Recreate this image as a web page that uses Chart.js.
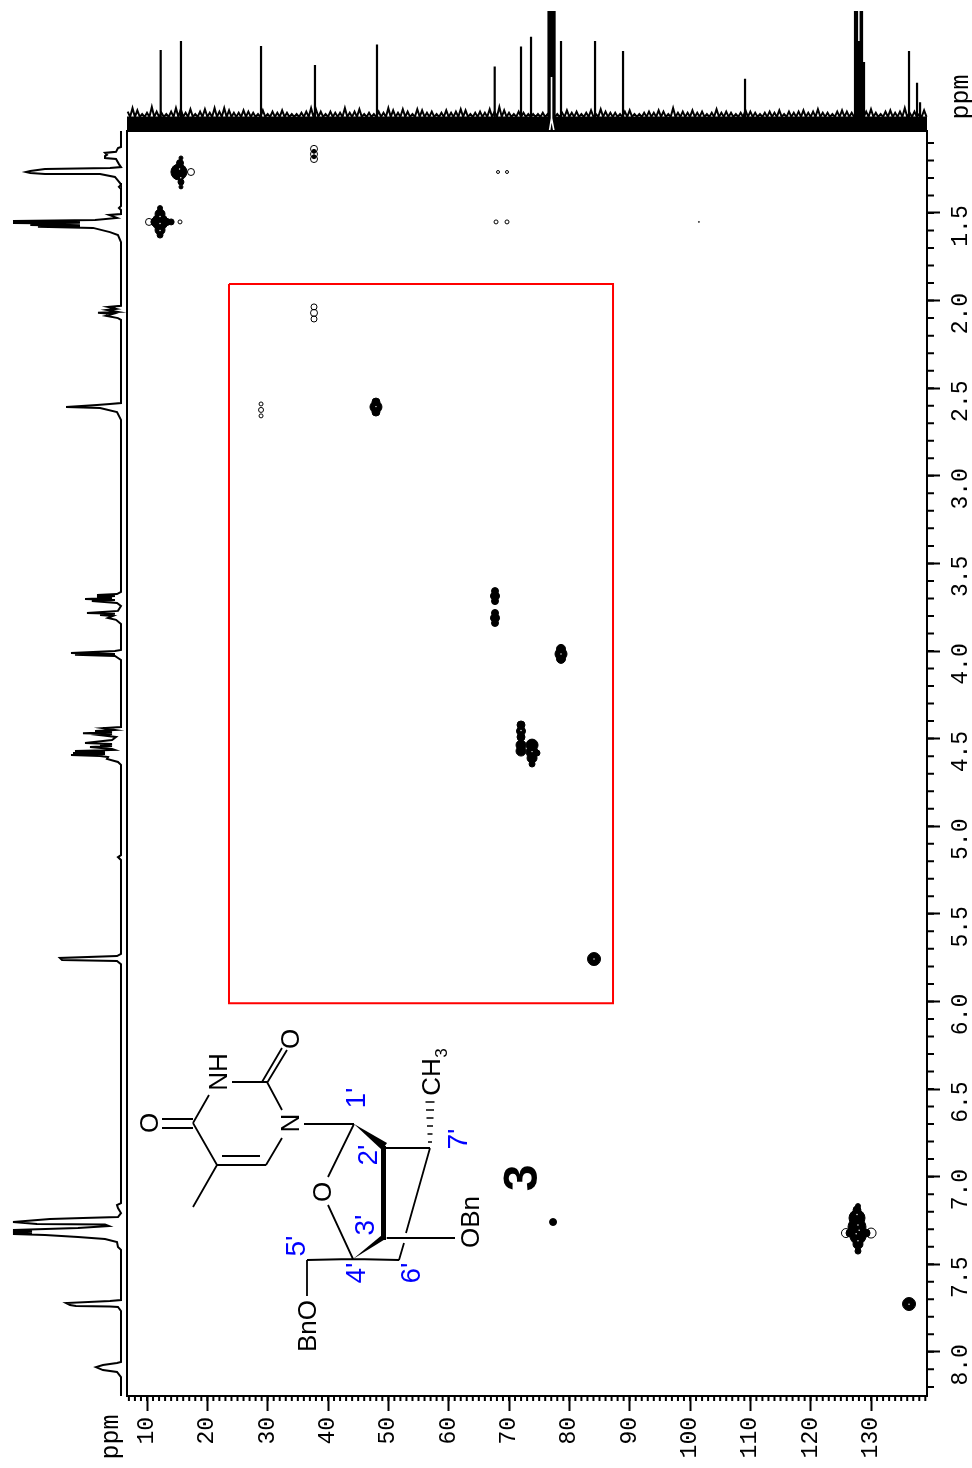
<!DOCTYPE html>
<html><head><meta charset="utf-8">
<script src="https://cdn.jsdelivr.net/npm/chart.js@4/dist/chart.umd.min.js"></script>
<style>html,body{margin:0;padding:0;background:#fff}canvas{display:block}</style>
</head><body><canvas id="c" width="972" height="1468"></canvas>
<script>
// Axis ticks
const carbonTicks=[10,20,30,40,50,60,70,80,90,100,110,120,130];
const protonTicks=[1.5,2.0,2.5,3.0,3.5,4.0,4.5,5.0,5.5,6.0,6.5,7.0,7.5,8.0];
// 1H projection (ppm, intensity)
const protonH=[1.032,1.123,1.129,1.151,1.157,1.168,1.175,1.186,1.192,1.221,1.238,1.243,1.249,1.260,1.266,1.272,1.277,1.277,1.294,1.329,1.340,1.351,1.363,1.460,1.472,1.483,1.506,1.511,1.528,1.540,1.545,1.551,1.557,1.562,1.568,1.574,1.579,1.585,1.609,1.626,1.666,2.030,2.036,2.047,2.053,2.065,2.070,2.076,2.087,2.100,2.110,2.585,2.590,2.596,2.607,2.613,2.636,2.681,3.663,3.675,3.680,3.686,3.692,3.698,3.703,3.709,3.715,3.726,3.743,3.771,3.783,3.788,3.794,3.800,3.811,3.822,3.845,3.994,4.000,4.011,4.017,4.022,4.028,4.051,4.434,4.440,4.451,4.457,4.463,4.469,4.474,4.480,4.491,4.508,4.525,4.531,4.537,4.542,4.548,4.559,4.565,4.571,4.576,4.582,4.588,4.594,4.599,4.605,4.616,4.633,4.650,5.165,5.176,5.193,5.729,5.741,5.752,5.763,5.769,5.787,7.151,7.162,7.179,7.208,7.231,7.236,7.242,7.259,7.270,7.273,7.282,7.293,7.304,7.310,7.316,7.321,7.327,7.333,7.344,7.356,7.373,7.401,7.418,7.704,7.710,7.721,7.733,7.738,7.741,7.744,7.767,8.058,8.064,8.075,8.087,8.104,8.115,8.144,8.252];
const protonI=[0,0,2.8,4.6,14.8,13,14.8,14.8,4.6,1.9,0,10.2,70.4,84,88,84,70.4,19.4,5.6,0.9,0,1.9,0,0,1.9,0,0,11.1,3.7,24,100,38,100,38,84,38,76.9,25.9,10.2,2.8,0,0,12,4.6,13,2.8,21.3,7.4,13.9,2.8,0,0,10.2,22.2,50.9,19.4,3.7,0,0,3.7,22.2,5.6,22.2,8.3,33.3,5.6,27,3.7,0,2.8,31.5,5.6,19.4,7.4,12,4.6,0,0,5.6,46.3,5.6,42.6,5.6,0,0,16.7,5.6,24,8.3,35.2,8.3,19.4,4.6,8.3,33.3,8.3,19.4,8.3,28.7,8.3,5.6,42.6,14.8,44.4,14.8,46.3,19.4,12,13,2.8,0,0,2.8,0,0,3.7,56.5,54.6,3.7,0,0,3.7,2.8,0,2.8,35.2,65.7,100,77.8,14.8,11.1,39.8,100,82.4,100,82.4,100,70.4,39.8,14.8,3.7,2.8,0,0,10.2,50.9,47.2,41.7,10.2,2.8,0,0,3.7,16.7,23.1,16.7,3.7,0,0];
// 13C projection peaks (ppm, intensity; 100 = clipped at the top)
const carbonPeakC=[12.27,15.63,28.9,37.84,48.12,67.63,71.99,73.65,76.55,76.72,76.88,77.05,77.21,77.38,77.55,78.62,84.26,88.9,109.12,127.35,127.52,127.68,127.89,128.06,128.29,128.51,128.68,128.84,136.3,137.63,138.13];
const carbonPeakI=[66.7,74.4,70.1,53.8,71.4,52.6,69.7,78,100,100,100,100,100,100,100,74.4,74.4,65.8,42.1,100,100,100,74.4,74.4,100,100,56.4,56.4,65.8,38.7,22];
// 13C baseline noise envelope, one reading per 0.8 ppm from 6.8 ppm
const noiseStart=6.8,noiseStep=0.8,noiseFloor=9.5;
const noiseI=[14,17,15,12,13,18,14,13,12,14,17,16,13,16,12,14,16,13,17,14,17,15,13,13,15,14,13,12,15,12,14,13,15,13,12,12,13,14,17,16,14,12,14,13,13,17,13,14,16,12,13,12,14,13,17,15,13,16,14,12,16,15,13,14,12,13,15,13,14,16,15,12,13,14,13,16,14,18,15,13,12,14,13,12,12,12,13,12,14,12,13,15,13,14,12,13,15,12,16,14,13,13,12,14,15,12,12,13,14,13,15,14,12,17,13,14,13,15,13,14,12,13,16,13,14,13,12,13,15,14,13,12,13,14,13,15,12,14,13,14,15,13,14,16,13,13,12,14,15,14,13,12,13,14,16,13,12,14,15,13,14,17,13,14,12,15];
// Cross peaks: solid contour cores (13C, 1H, radius)
const coreC=[15.29,15.47,15.63,15.63,15.63,12.16,12.16,12.16,12.16,12.16,13.31,11.3,14.0,47.95,47.95,47.95,67.68,67.68,67.68,67.68,67.68,67.68,78.62,78.62,78.62,71.99,71.99,71.99,71.99,71.99,73.82,73.82,73.82,73.82,74.64,84.09,77.3,127.68,127.68,127.68,127.84,127.84,127.84,127.84,126.52,129.18,136.3,37.68,37.68];
const coreH=[1.266,1.215,1.186,1.323,1.351,1.551,1.506,1.597,1.472,1.626,1.551,1.551,1.551,2.607,2.579,2.636,3.658,3.686,3.715,3.783,3.811,3.840,4.017,3.988,4.045,4.422,4.457,4.491,4.537,4.571,4.537,4.577,4.611,4.645,4.582,5.758,7.259,7.191,7.236,7.287,7.340,7.385,7.425,7.168,7.322,7.322,7.727,1.148,1.179];
const coreR=[8,3.5,2,3,2,8,5,5,2.5,3,3.5,4,3,6,4,4,3.5,4.5,3.5,3.5,4.5,3.5,6,4.5,4.5,4,4.5,4,5,5,6,6,5,3,3,6.5,3.5,4,8,9,8,5,3,2.5,4,4,6.5,2,2];
// Cross peaks: open outer contours (13C, 1H, radius)
const ringC=[17.29,15.47,10.33,37.68,37.68,37.68,37.68,37.68,37.68,28.9,28.9,28.9,68.18,69.67,67.85,69.67,101.48,125.85,130.01];
const ringH=[1.266,1.551,1.551,1.134,1.164,1.192,2.036,2.070,2.105,2.590,2.624,2.658,1.266,1.266,1.551,1.551,1.551,7.322,7.322];
const ringR=[3.5,2,3.5,3.5,3.5,3.5,3,3.5,3,2,2.5,2,1.5,1.5,2,2,0.5,4.5,5];
// Light gaps between contour lines inside the dense peaks
const speckC=[15.4,15.6,12.16,12.16,12.16,127.68,127.84,128.04,127.54,127.84,136.3,47.95,78.62,84.09,73.82,71.99];
const speckH=[1.249,1.299,1.52,1.56,1.60,7.216,7.276,7.306,7.326,7.366,7.728,2.605,4.017,5.758,4.574,4.454];
// Box around the region of interest
const boxC=[23.59,87.24,87.24,23.59,23.59];
const boxH=[1.905,1.905,6.01,6.01,1.905];
// Molecule (annotation drawn over the plot)
const bonds=[[262,1082,282,1048],[267,1083,287,1050],[232,1082,267,1082],[267,1082,282,1110],[209,1095,193,1123],[193,1119,162,1119],[193,1128,162,1128],[193,1123,217,1165],[217,1165,266,1165],[222,1156,260,1156],[266,1165,282,1138],[217,1165,193,1207],[304,1124,354,1124],[354,1124,328,1177],[328,1205,353,1259],[386,1148,430,1148],[430,1148,406,1233],[404,1243,399,1260],[353,1259,399,1260],[387,1238,455,1238],[353,1259,307,1260],[307,1260,307,1296]];
const molText=[["O",292,1039],["NH",220,1072],["O",151,1123],["N",292,1123],["O",324,1192],["BnO",309,1326],["OBn",472,1222],["CH",433,1077]];
const blueText=[["1'",357,1098],["2'",369,1155],["3'",366,1225],["4'",357,1273],["5'",297,1246],["6'",412,1273],["7'",459,1139]];

const L=127,R=927,T=131,B=1396;
const zip=(a,b)=>a.map((v,i)=>({x:v,y:b[i]}));
const bub=(a,b,r)=>a.map((v,i)=>({x:v,y:b[i],r:r[i]}));
const peakLine=[];carbonPeakC.forEach((c,i)=>{peakLine.push({x:c,y:0},{x:c,y:carbonPeakI[i]},{x:c,y:0});});
const noiseLine=[];noiseI.forEach((v,i)=>{const c=noiseStart+i*noiseStep;noiseLine.push({x:c,y:v},{x:c+noiseStep/2,y:noiseFloor});});
const line=(data,color,w,extra)=>Object.assign({type:'scatter',data,showLine:true,borderColor:color,borderWidth:w,pointRadius:0,tension:0,clip:false,xAxisID:'x',yAxisID:'y',borderJoinStyle:'miter'},extra||{});
const up=(ctx,txt,x,y,font,color)=>{ctx.save();ctx.translate(x,y);ctx.rotate(-Math.PI/2);ctx.font=font;ctx.fillStyle=color||'#000';ctx.textAlign='center';ctx.textBaseline='middle';ctx.fillText(txt,0,0);ctx.restore();};
const overlay={id:'overlay',
 afterDraw(chart){
  const ctx=chart.ctx,sx=chart.scales.x,sy=chart.scales.y;
  ctx.save();ctx.strokeStyle='#000';ctx.lineWidth=2;ctx.strokeRect(L,T,R-L,B-T);
  ctx.beginPath();
  for(let v=7;v<=139;v++){const p=sx.getPixelForValue(v);ctx.moveTo(p,B);ctx.lineTo(p,B+5);}
  for(let v=11;v<=82;v++){const p=sy.getPixelForValue(v/10);ctx.moveTo(R,p);ctx.lineTo(R+7,p);}
  ctx.stroke();
  up(ctx,'ppm',111,1437,'25px "Liberation Mono"');
  up(ctx,'ppm',961,97,'25px "Liberation Mono"');
  // molecule
  ctx.lineWidth=1.8;ctx.beginPath();
  bonds.forEach(b=>{ctx.moveTo(b[0],b[1]);ctx.lineTo(b[2],b[3]);});ctx.stroke();
  ctx.fillStyle='#000';
  [[354,1124,387,1143,382,1150],[353,1259,382,1235,387,1238]].forEach(t=>{ctx.beginPath();ctx.moveTo(t[0],t[1]);ctx.lineTo(t[2],t[3]);ctx.lineTo(t[4],t[5]);ctx.closePath();ctx.fill();});
  ctx.fillRect(381,1146,5,94);
  ctx.lineWidth=1.5;ctx.beginPath();
  [[1142,2],[1134,2.5],[1126,3],[1118,3.5],[1110,4],[1102,4.5]].forEach(h=>{ctx.moveTo(430-h[1],h[0]);ctx.lineTo(430+h[1],h[0]);});ctx.stroke();
  molText.forEach(t=>up(ctx,t[0],t[1],t[2],'26px "Liberation Sans"'));
  up(ctx,'3',442,1053,'17px "Liberation Sans"');
  blueText.forEach(t=>up(ctx,t[0],t[1],t[2],'28px "Liberation Sans"','#0000ff'));
  up(ctx,'3',524,1178,'bold 48px "Liberation Sans"');
  ctx.restore();
 }};
new Chart(document.getElementById('c'),{
 type:'scatter',
 data:{datasets:[
  line(zip([76.71,77.05,77.45,77.05,77.05],[-2.5,8.5,-2.5,8.5,43.6]),'#fff',1.6,{label:'solvent gap',yAxisID:'yC'}),
  line(peakLine,'#000',2.2,{label:'13C peaks',yAxisID:'yC'}),
  line(noiseLine,'#000',2,{label:'13C noise',yAxisID:'yC'}),
  line([{x:6.685,y:3.4},{x:139.28,y:3.4}],'#000',15,{label:'13C baseline band',yAxisID:'yC'}),
  line(zip(protonI,protonH),'#000',2,{label:'1H projection',xAxisID:'xP'}),
  line(zip(boxC,boxH),'#ff0000',2,{label:'region'}),
  {type:'bubble',label:'contour gaps',data:bub(speckC,speckH,speckC.map(()=>0.7)),backgroundColor:'#fff',borderWidth:0,xAxisID:'x',yAxisID:'y'},
  {type:'bubble',label:'contours',data:bub(ringC,ringH,ringR),backgroundColor:'rgba(0,0,0,0)',borderColor:'#000',borderWidth:1,xAxisID:'x',yAxisID:'y'},
  {type:'bubble',label:'contour cores',data:bub(coreC,coreH,coreR),backgroundColor:'#000',borderColor:'#000',borderWidth:1,xAxisID:'x',yAxisID:'y'}
 ]},
 options:{responsive:false,animation:false,devicePixelRatio:1,
  layout:{padding:{left:L,top:T,right:0,bottom:0}},
  plugins:{legend:{display:false},tooltip:{enabled:false}},
  scales:{
   x:{type:'linear',position:'bottom',min:6.685,max:139.28,
    afterBuildTicks:s=>{s.ticks=carbonTicks.map(v=>({value:v}));},
    afterFit:s=>{s.height=1468-B;},
    border:{display:false},
    grid:{drawOnChartArea:false,tickLength:15,tickWidth:2,tickColor:'#000'},
    ticks:{autoSkip:false,minRotation:90,maxRotation:90,padding:6,color:'#000',font:{family:'"Liberation Mono"',size:23},callback:v=>String(v)}},
   y:{type:'linear',position:'right',reverse:true,min:1.032,max:8.252,
    afterBuildTicks:s=>{s.ticks=protonTicks.map(v=>({value:v}));},
    afterFit:s=>{s.width=972-R;},
    border:{display:false},
    grid:{drawOnChartArea:false,tickLength:13,tickWidth:2,tickColor:'#000'},
    ticks:{autoSkip:false,minRotation:90,maxRotation:90,crossAlign:'center',padding:0,labelOffset:13,color:'#000',font:{family:'"Liberation Mono"',size:23},callback:v=>v.toFixed(1)}},
   xP:{type:'linear',display:false,reverse:true,min:-746.3,max:-5.56},
   yC:{type:'linear',display:false,min:-1083.8,max:-2.56}
  }},
 plugins:[overlay]
});
</script></body></html>
